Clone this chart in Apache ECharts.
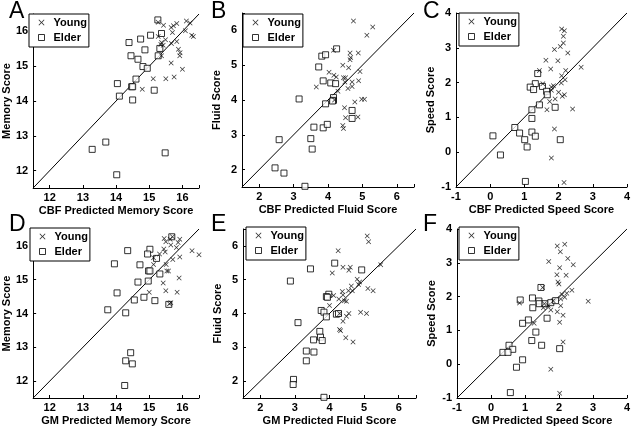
<!DOCTYPE html>
<html><head><meta charset="utf-8">
<script src="https://cdn.jsdelivr.net/npm/echarts@6/dist/echarts.min.js"></script>
<style>html,body{margin:0;padding:0;background:#fff}#c{width:633px;height:427px}</style>
</head><body><div id="c"></div>
<script>
// ---- data ----
const youngA=[[15.27,16.26],[15.43,16.18],[15.66,16.11],[15.73,16.16],[15.83,16.23],[16.12,16.3],[16.23,16.24],[16.09,16.02],[16.28,15.89],[16.33,15.85],[15.27,15.85],[15.37,15.68],[15.49,15.76],[15.7,15.97],[15.83,15.71],[15.67,15.65],[15.88,15.49],[15.93,15.39],[15.92,15.3],[15.37,15.3],[15.66,15.09],[16.0,14.91],[15.12,14.64],[15.5,14.64],[15.75,14.69],[14.79,14.34],[15.42,15.6],[15.35,15.62]];
const elderA=[[15.26,16.33],[15.04,15.89],[15.37,15.94],[14.74,15.78],[14.39,15.68],[15.32,15.51],[14.87,15.47],[14.45,15.3],[14.66,15.2],[15.27,15.3],[14.81,14.99],[14.94,14.94],[14.6,14.63],[14.04,14.5],[14.47,14.41],[14.5,14.41],[14.1,14.14],[15.15,14.31],[14.5,14.03],[13.69,12.82],[13.28,12.61],[15.48,12.51],[14.02,11.88]];
const youngB=[[4.74,6.27],[5.3,6.1],[5.13,5.86],[4.16,5.43],[4.64,5.35],[4.88,5.35],[4.66,5.22],[4.64,5.16],[4.43,5.0],[4.6,4.93],[4.93,4.82],[4.03,4.8],[4.17,4.71],[4.24,4.66],[4.45,4.64],[4.51,4.64],[4.49,4.52],[4.7,4.52],[4.89,4.55],[3.66,4.37],[4.7,4.39],[4.58,4.33],[4.29,4.25],[4.98,4.02],[5.06,4.02],[4.78,3.94],[4.48,3.78],[4.51,3.49],[4.87,3.51],[4.43,3.27],[4.45,3.18],[4.19,4.0]];
const elderB=[[4.25,5.47],[3.82,5.26],[3.93,5.3],[3.73,4.95],[3.86,4.55],[4.08,4.49],[4.22,4.47],[3.16,4.03],[4.16,4.07],[4.16,3.99],[4.13,3.97],[3.93,3.89],[4.7,3.7],[4.7,3.47],[3.59,3.22],[3.86,3.2],[3.98,3.3],[3.5,2.89],[2.58,2.86],[3.54,2.59],[2.46,2.05],[2.72,1.9],[3.33,1.52]];
const youngC=[[2.09,3.54],[2.17,3.49],[2.14,3.33],[2.14,3.14],[2.05,3.04],[1.88,2.95],[2.27,2.85],[1.63,2.64],[1.98,2.63],[2.66,2.44],[1.77,2.39],[2.21,2.35],[1.44,2.35],[2.09,2.2],[2.19,2.08],[1.54,1.97],[2.08,1.99],[1.79,1.87],[1.85,1.91],[1.79,1.78],[2.0,1.72],[1.9,1.53],[1.74,1.46],[2.17,1.65],[2.11,1.61],[1.66,1.22],[2.41,1.24],[1.88,0.67],[1.79,-0.17],[2.16,-0.87]];
const elderC=[[1.39,2.26],[1.32,1.97],[1.17,1.87],[1.27,1.8],[1.53,1.89],[1.65,1.75],[1.67,1.65],[1.44,1.36],[1.9,1.29],[1.22,1.22],[1.22,0.97],[0.72,0.71],[0.86,0.55],[1.22,0.58],[1.32,0.46],[0.08,0.47],[1.01,0.36],[2.05,0.36],[1.08,0.15],[0.3,-0.08],[1.03,-0.84]];
const youngD=[[15.45,16.22],[15.5,16.12],[15.63,16.2],[15.7,16.27],[15.92,16.2],[15.87,16.1],[15.65,16.03],[15.82,15.95],[16.29,15.86],[16.5,15.74],[15.44,15.91],[15.48,15.82],[15.31,15.76],[15.13,15.65],[15.92,15.67],[15.71,15.6],[15.13,15.45],[15.51,15.45],[15.53,15.26],[15.9,15.05],[15.42,14.9],[15.0,14.63],[15.5,14.67],[15.84,14.63],[15.61,14.29],[15.65,14.32],[15.58,15.26]];
const elderD=[[15.68,16.27],[15.02,15.9],[14.35,15.86],[14.95,15.76],[13.95,15.47],[14.72,15.44],[15.22,15.63],[14.98,15.26],[15.02,15.26],[15.32,15.17],[14.66,14.93],[14.97,14.96],[14.03,14.61],[14.55,14.4],[14.84,14.48],[15.17,14.38],[15.59,14.27],[13.75,14.11],[14.29,14.02],[14.44,12.84],[14.29,12.6],[14.49,12.51],[14.26,11.87]];
const youngE=[[5.09,6.29],[5.13,6.12],[4.25,5.86],[5.48,5.44],[4.39,5.37],[4.6,5.37],[4.56,5.28],[4.08,5.2],[4.8,5.01],[4.87,4.93],[4.84,4.86],[4.63,4.81],[5.11,4.74],[5.26,4.67],[4.37,4.65],[4.66,4.67],[4.55,4.67],[4.39,4.55],[4.12,4.53],[4.27,4.43],[4.43,4.38],[4.49,4.36],[4.0,4.24],[4.9,4.04],[5.07,4.0],[4.29,4.0],[4.56,4.0],[4.49,3.92],[4.39,3.77],[4.29,3.53],[4.32,3.49],[4.47,3.28],[4.68,3.16]];
const elderE=[[4.15,5.49],[4.93,5.29],[3.45,5.32],[2.87,4.96],[3.98,4.57],[3.91,4.5],[3.94,4.48],[3.76,4.09],[3.84,4.04],[3.91,3.9],[4.2,3.98],[4.26,4.0],[3.09,3.73],[3.72,3.47],[3.74,3.3],[3.79,3.2],[3.54,3.22],[3.33,2.89],[3.55,2.86],[3.33,2.6],[2.96,2.05],[2.95,1.9],[3.84,1.52]];
const youngF=[[2.17,3.55],[1.95,3.5],[2.04,3.33],[2.26,3.13],[1.7,3.04],[2.42,2.94],[2.02,2.85],[1.94,2.65],[2.21,2.63],[1.97,2.43],[2.0,2.37],[1.52,2.27],[2.38,2.19],[2.23,2.1],[2.09,2.06],[2.17,1.98],[2.05,1.93],[1.83,1.88],[2.86,1.86],[0.84,1.81],[1.57,1.79],[1.68,1.74],[2.05,1.73],[1.54,1.67],[1.76,1.6],[1.95,1.55],[2.12,1.45],[2.02,1.24],[1.27,1.21],[2.12,0.66],[1.76,-0.15],[2.02,-0.86]];
const elderF=[[1.47,2.27],[1.22,1.96],[0.86,1.9],[1.41,1.87],[1.42,1.79],[1.59,1.79],[1.76,1.82],[1.9,1.88],[1.23,1.67],[1.1,1.31],[1.65,1.36],[0.93,1.21],[1.32,0.95],[1.2,0.7],[0.53,0.56],[1.49,0.56],[0.64,0.44],[0.35,0.35],[0.5,0.35],[2.02,0.46],[0.93,0.13],[0.75,-0.09],[0.57,-0.84]];
const memoryRange=[11.5,16.5];
const fluidRange=[1.5,6.5];
const speedRange=[-1,4];
const panelLetters=['A','B','C','D','E','F'];
const xTitles=['CBF Predicted Memory Score','CBF Predicted Fluid Score','CBF Predicted Speed Score','GM Predicted Memory Score','GM Predicted Fluid Score','GM Predicted Speed Score'];
const yTitles=['Memory Score','Fluid Score','Speed Score','Memory Score','Fluid Score','Speed Score'];
const legendNames=['Young','Elder'];

// ---- layout ----
const panels=[
 {young:youngA,elder:elderA,range:memoryRange,grid:{left:27,top:14,width:172,height:174},leg:[29,14],let:[9,0]},
 {young:youngB,elder:elderB,range:fluidRange,grid:{left:242,top:13,width:172,height:174},leg:[243,14],let:[211,0]},
 {young:youngC,elder:elderC,range:speedRange,grid:{left:456,top:13,width:173,height:174},leg:[459,13],let:[423,0]},
 {young:youngD,elder:elderD,range:memoryRange,grid:{left:27,top:229,width:172,height:174},leg:[30,228],let:[9,213]},
 {young:youngE,elder:elderE,range:fluidRange,grid:{left:243,top:229,width:173,height:173},leg:[246,227],let:[211,213]},
 {young:youngF,elder:elderF,range:speedRange,grid:{left:457,top:229,width:173,height:173},leg:[459,227],let:[423,213]}
];
const XPATH='path://M0,1L1,0L5,4L9,0L10,1L6,5L10,9L9,10L5,6L1,10L0,9L4,5Z';
const FONT='"Liberation Sans", Arial, sans-serif';
const lab={color:'#000',fontWeight:'bold',fontSize:11,fontFamily:FONT};

const grid=[],xAxis=[],yAxis=[],series=[],legend=[],graphic=[];
panels.forEach((p,i)=>{
  grid.push(Object.assign({containLabel:false},p.grid));
  const ax=(name,isX)=>({
    type:'value',gridIndex:i,min:p.range[0],max:p.range[1],splitNumber:5,
    name:name,nameLocation:'middle',nameGap:isX?17:20,
    nameTextStyle:Object.assign({},lab),
    axisLine:{show:true,onZero:false,lineStyle:{color:'#000',width:1}},
    axisTick:{show:true,inside:true,length:3,lineStyle:{color:'#000'}},
    axisLabel:Object.assign({margin:isX?4:5,formatter:v=>Number.isInteger(v)?String(v):''},lab),
    splitLine:{show:false}
  });
  xAxis.push(ax(xTitles[i],true));
  yAxis.push(ax(yTitles[i],false));
  series.push({type:'line',xAxisIndex:i,yAxisIndex:i,data:[[p.range[0],p.range[0]],[p.range[1],p.range[1]]],
    symbol:'none',silent:true,lineStyle:{color:'#000',width:1},z:1});
  series.push({name:legendNames[0],type:'scatter',xAxisIndex:i,yAxisIndex:i,data:p.young,
    symbol:XPATH,symbolSize:5,itemStyle:{color:'#000'},z:3});
  series.push({name:legendNames[1],type:'scatter',xAxisIndex:i,yAxisIndex:i,data:p.elder,
    symbol:'rect',symbolSize:6,itemStyle:{color:'#fff',borderColor:'#000',borderWidth:1},z:2});
  legend.push({left:p.leg[0],top:p.leg[1],orient:'vertical',selectedMode:false,
    backgroundColor:'#fff',borderColor:'#000',borderWidth:1,borderRadius:0,
    padding:[2,2,3,9],itemGap:2,itemWidth:6,itemHeight:6,
    textStyle:Object.assign({padding:[0,0,0,4],lineHeight:13},lab),
    data:[{name:legendNames[0],icon:XPATH,itemStyle:{color:'#000'}},
          {name:legendNames[1],icon:'rect',itemStyle:{color:'#fff',borderColor:'#000',borderWidth:1}}]});
  graphic.push({type:'text',left:p.let[0],top:p.let[1],style:{text:panelLetters[i],fontSize:23,fontFamily:FONT,fill:'#000'}});
});

const chart=echarts.init(document.getElementById('c'),null,{renderer:'canvas'});
chart.setOption({animation:false,backgroundColor:'#fff',grid,xAxis,yAxis,series,legend,graphic});
</script></body></html>
